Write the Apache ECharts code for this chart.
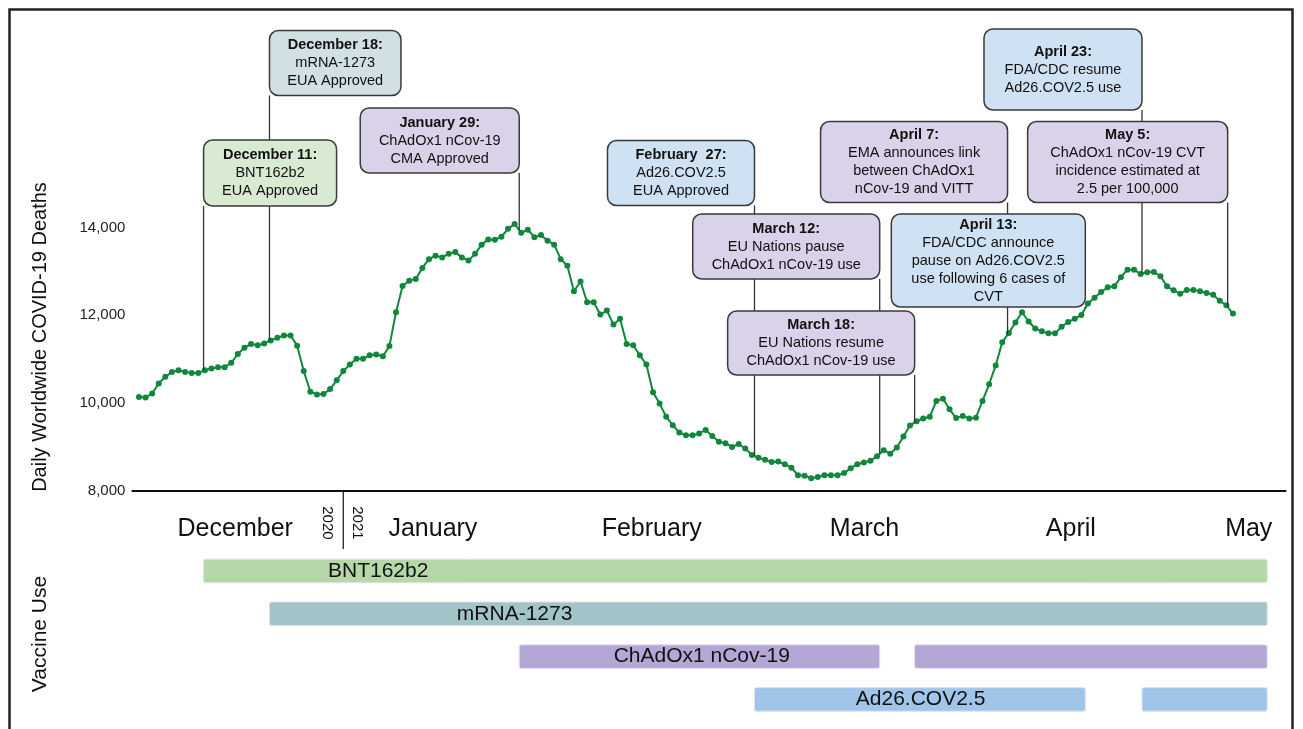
<!DOCTYPE html>
<html>
<head>
<meta charset="utf-8">
<script src="https://cdn.jsdelivr.net/npm/echarts@6/dist/echarts.min.js"></script>
<style>
html, body { margin: 0; padding: 0; background: #fff; }
#main { width: 1303px; height: 729px; }
</style>
</head>
<body>
<div id="main"></div>
<script>
// x = days since 1 December 2020 (day 0), one point per day
var deaths = [
  10140, 10130, 10220, 10450, 10600, 10710, 10750, 10710, 10690, 10690,
  10750, 10790, 10820, 10820, 10920, 11120, 11260, 11350, 11320, 11360,
  11430, 11490, 11540, 11540, 11310, 10730, 10260, 10200, 10210, 10320,
  10520, 10730, 10880, 11010, 11010, 11090, 11110, 11070, 11300, 12070,
  12670, 12790, 12830, 13080, 13280, 13360, 13320, 13400, 13440, 13320,
  13250, 13400, 13610, 13730, 13720, 13790, 13970, 14080, 13880, 13950,
  13780, 13830, 13700, 13610, 13280, 13130, 12550, 12770, 12300, 12300,
  12020, 12110, 11790, 11920, 11350, 11320, 11090, 10880, 10250, 9990,
  9690, 9500, 9330, 9270, 9270, 9310, 9390, 9250, 9120, 9090,
  9000, 9070, 8970, 8820, 8760, 8710, 8660, 8670, 8610, 8530,
  8360, 8350, 8290, 8320, 8360, 8360, 8360, 8410, 8520, 8610,
  8650, 8690, 8790, 8930, 8850, 8990, 9240, 9490, 9590, 9650,
  9690, 10050, 10100, 9860, 9660, 9710, 9650, 9670, 10050, 10430,
  10860, 11390, 11600, 11840, 12070, 11860, 11700, 11640, 11590, 11590,
  11740, 11850, 11920, 12010, 12270, 12400, 12530, 12640, 12660, 12870,
  13040, 13040, 12940, 12980, 12990, 12890, 12660, 12570, 12490, 12580,
  12580, 12550, 12510, 12470, 12330, 12230, 12040
];
var days = deaths.map(function (v, i) { return i; });

var yTicks = [8000, 10000, 12000, 14000];
var monthNames = ['December', 'January', 'February', 'March', 'April', 'May'];
var monthDays = [14.6, 44.6, 77.8, 110.1, 141.4, 168.4];
var yearNames = ['2020', '2021'];
var yearDays = [28.5, 33.1];
var yearBreak = 31;

// events: where each note is pinned on the time line, and its text
var eventDays = [9.8, 19.8, 57.7, 93.4, 112.4, 117.7, 131.8, 143.6, 152.2, 165.2];
var eventTitles = ['December 11:', 'December 18:', 'January 29:', 'February  27:', 'March 12:',
  'March 18:', 'April 7:', 'April 13:', 'April 23:', 'May 5:'];
var eventTexts = [
  ['BNT162b2', 'EUA Approved'],
  ['mRNA-1273', 'EUA Approved'],
  ['ChAdOx1 nCov-19', 'CMA Approved'],
  ['Ad26.COV2.5', 'EUA Approved'],
  ['EU Nations pause', 'ChAdOx1 nCov-19 use'],
  ['EU Nations resume', 'ChAdOx1 nCov-19 use'],
  ['EMA announces link', 'between ChAdOx1', 'nCov-19 and VITT'],
  ['FDA/CDC announce', 'pause on Ad26.COV2.5', 'use following 6 cases of', 'CVT'],
  ['FDA/CDC resume', 'Ad26.COV2.5 use'],
  ['ChAdOx1 nCov-19 CVT', 'incidence estimated at', '2.5 per 100,000']
];

// vaccine use periods: [row, start day, end day]
var vaccines = ['BNT162b2', 'mRNA-1273', 'ChAdOx1 nCov-19', 'Ad26.COV2.5'];
var vaccineUse = [
  [0, 9.8, 171.2],
  [1, 19.8, 171.2],
  [2, 57.7, 112.4],
  [2, 117.7, 171.2],
  [3, 93.4, 143.6],
  [3, 152.2, 171.2]
];
var vaccineLabelDays = [36.3, 57.0, 85.4, 118.6];

// box layout for each note (pixels)
var boxLayout = [
  { side: 'left',  top: 140,   w: 133,   h: 66, fill: '#d9ead3' },
  { side: 'left',  top: 30.5,  w: 131.5, h: 65, fill: '#d0e0e3' },
  { side: 'right', top: 108,   w: 159,   h: 65, fill: '#d9d2e9' },
  { side: 'right', top: 140.5, w: 147,   h: 65, fill: '#cfe2f3' },
  { side: 'right', top: 214,   w: 187,   h: 65, fill: '#d9d2e9' },
  { side: 'right', top: 311,   w: 187,   h: 64, fill: '#d9d2e9' },
  { side: 'right', top: 121.5, w: 187,   h: 81, fill: '#d9d2e9' },
  { side: 'right', top: 214,   w: 194,   h: 93, fill: '#cfe2f3' },
  { side: 'right', top: 29,    w: 158,   h: 81, fill: '#cfe2f3' },
  { side: 'right', top: 121.5, w: 200,   h: 81, fill: '#d9d2e9' }
];
var vaccineColors = ['#b6d7a8', '#a2c4c9', '#b4a7d6', '#9fc5e8'];

var FONT = 'Liberation Sans, Arial, sans-serif';
var myChart = echarts.init(document.getElementById('main'));

var option = {
  animation: false,
  grid: [
    { left: 132.4, width: 1153.25, top: 139.7, height: 351.3 },
    { left: 132.4, width: 1153.25, top: 549.6, height: 171.2 }
  ],
  xAxis: [
    {
      type: 'value', gridIndex: 0, min: -1, max: 174,
      axisLine: { lineStyle: { color: '#111', width: 2 } },
      axisTick: { show: false },
      splitLine: { show: false },
      axisLabel: {
        customValues: monthDays,
        margin: 26,
        fontSize: 25,
        fontFamily: FONT,
        color: '#111',
        formatter: function (v) {
          var i = monthDays.indexOf(v);
          return i < 0 ? '' : monthNames[i];
        }
      }
    },
    {
      type: 'value', gridIndex: 1, min: -1, max: 174, position: 'top',
      axisLine: { show: false },
      splitLine: { show: false },
      axisTick: { show: false },
      axisLabel: {
        customValues: yearDays,
        rotate: 90,
        margin: 10,
        fontSize: 15,
        fontFamily: FONT,
        color: '#111',
        formatter: function (v) {
          var i = yearDays.indexOf(v);
          return i < 0 ? '' : yearNames[i];
        }
      }
    }
  ],
  yAxis: [
    {
      type: 'value', gridIndex: 0, min: 8000, max: 16000, interval: 2000,
      axisLine: { show: false },
      axisTick: { show: false },
      splitLine: { show: false },
      axisLabel: {
        customValues: yTicks,
        margin: 7,
        fontSize: 15,
        fontFamily: FONT,
        color: '#222',
        formatter: function (v) { return v.toLocaleString('en-US'); }
      }
    },
    {
      type: 'category', gridIndex: 1, data: vaccines, inverse: true,
      axisLine: { show: false },
      axisTick: { show: false },
      axisLabel: { show: false }
    }
  ],
  series: [
    {
      type: 'line',
      xAxisIndex: 0, yAxisIndex: 0,
      data: days.map(function (d, i) { return [d, deaths[i]]; }),
      symbol: 'circle',
      symbolSize: 6,
      lineStyle: { color: '#11873c', width: 2 },
      itemStyle: { color: '#11873c' },
      z: 3
    },
    {
      type: 'custom',
      xAxisIndex: 1, yAxisIndex: 1,
      data: vaccineUse,
      renderItem: function (params, api) {
        var row = api.value(0);
        var p0 = api.coord([api.value(1), row]);
        var p1 = api.coord([api.value(2), row]);
        var h = api.size([0, 1])[1] * 0.55;
        return {
          type: 'rect',
          shape: { x: p0[0], y: p0[1] - h / 2, width: p1[0] - p0[0], height: h, r: 2 },
          style: { fill: vaccineColors[row], stroke: '#e3def2', lineWidth: 1 }
        };
      }
    },
    {
      type: 'custom',
      xAxisIndex: 1, yAxisIndex: 1,
      data: vaccines.map(function (v, i) { return [i, vaccineLabelDays[i]]; }),
      renderItem: function (params, api) {
        var p = api.coord([api.value(1), api.value(0)]);
        return {
          type: 'text',
          x: p[0], y: p[1],
          style: {
            text: vaccines[api.value(0)],
            align: 'center', verticalAlign: 'middle',
            fontSize: 21, fontFamily: FONT, fill: '#111'
          }
        };
      }
    }
  ]
};
myChart.setOption(option);

// notes, leader lines, axis titles and frame
function valueAt(d) {
  var i = Math.floor(d), f = d - i;
  if (i >= deaths.length - 1) return deaths[deaths.length - 1];
  return deaths[i] + (deaths[i + 1] - deaths[i]) * f;
}

var graphics = [];
graphics.push({
  type: 'rect', silent: true, z: 0,
  shape: { x: 9.5, y: 9.5, width: 1283, height: 740 },
  style: { fill: 'none', stroke: '#222', lineWidth: 2.5 }
});
graphics.push({
  type: 'text', x: 40, y: 337, rotation: Math.PI / 2,
  style: { text: 'Daily Worldwide COVID-19 Deaths', align: 'center', verticalAlign: 'middle',
    fontSize: 20, fontFamily: FONT, fill: '#111' }
});
graphics.push({
  type: 'text', x: 40, y: 634, rotation: Math.PI / 2,
  style: { text: 'Vaccine Use', align: 'center', verticalAlign: 'middle',
    fontSize: 21, fontFamily: FONT, fill: '#111' }
});

// 2020 | 2021 divider under the axis
var breakTop = myChart.convertToPixel({ gridIndex: 0 }, [yearBreak, 8000]);
graphics.push({
  type: 'line', z: 5,
  shape: { x1: breakTop[0], y1: breakTop[1], x2: breakTop[0], y2: breakTop[1] + 58 },
  style: { stroke: '#111', lineWidth: 1.2 }
});

eventDays.forEach(function (d, i) {
  var b = boxLayout[i];
  var px = myChart.convertToPixel({ gridIndex: 0 }, [d, valueAt(d)]);
  var x0 = b.side === 'left' ? px[0] : px[0] - b.w;
  var bottom = b.top + b.h;
  if (px[1] > bottom) {
    graphics.push({
      type: 'line', z: 5,
      shape: { x1: px[0], y1: bottom, x2: px[0], y2: px[1] },
      style: { stroke: '#333', lineWidth: 1.3 }
    });
  }
  graphics.push({
    type: 'rect', z: 10,
    shape: { x: x0, y: b.top, width: b.w, height: b.h, r: 9 },
    style: { fill: b.fill, stroke: '#3a3a3a', lineWidth: 1.5 }
  });
  graphics.push({
    type: 'text', z: 11,
    x: x0 + b.w / 2, y: b.top + b.h / 2,
    style: {
      text: '{t|' + eventTitles[i] + '}\n' + eventTexts[i].join('\n'),
      align: 'center', verticalAlign: 'middle',
      fontSize: 14.5, lineHeight: 18, fontFamily: FONT, fill: '#111',
      rich: { t: { fontWeight: 'bold', fontSize: 14.5, lineHeight: 18, fontFamily: FONT, fill: '#111' } }
    }
  });
});

myChart.setOption({ graphic: graphics });
</script>
</body>
</html>
